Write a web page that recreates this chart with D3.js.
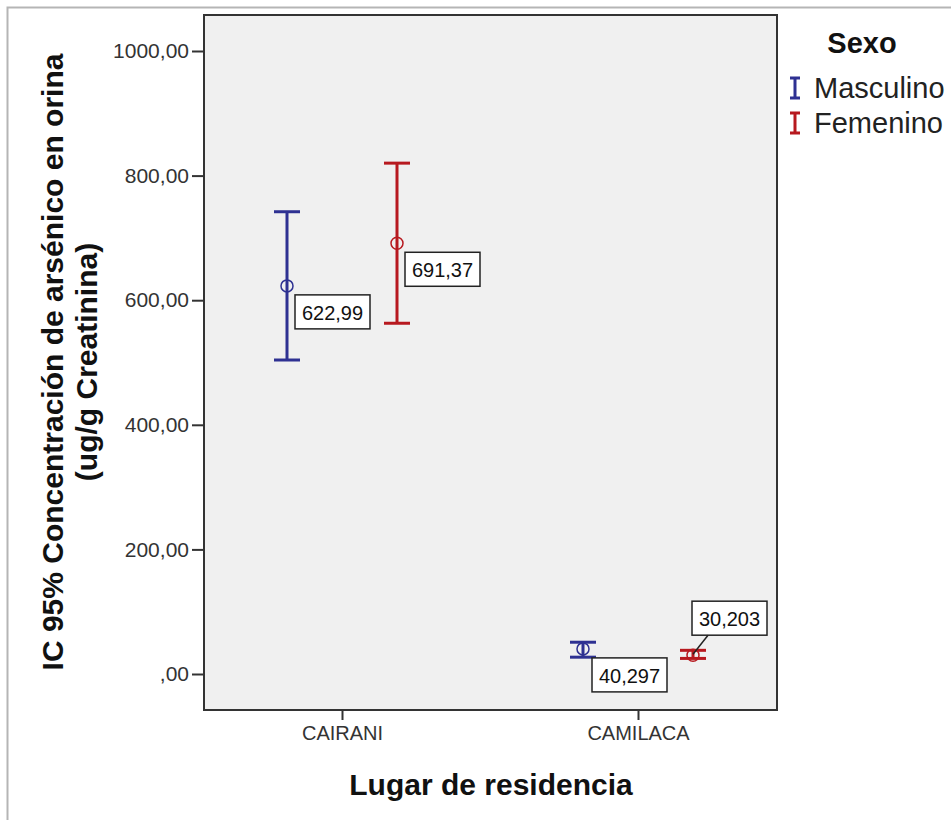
<!DOCTYPE html>
<html>
<head>
<meta charset="utf-8">
<script src="https://cdn.jsdelivr.net/npm/d3@7"></script>
<style>
  body { margin: 0; background: #fff; }
  svg text { font-family: "Liberation Sans", Arial, sans-serif; }
</style>
</head>
<body>
<div id="chart"></div>
<script>
// data
var places = ["CAIRANI", "CAMILACA"];
var sexes = ["Masculino", "Femenino"];
var means = [[622.99, 691.37], [40.297, 30.203]];
var lowers = [[504, 563], [27, 25]];
var uppers = [[742, 820], [51, 38]];
var meanLabels = [["622,99", "691,37"], ["40,297", "30,203"]];
var yTicks = [0, 200, 400, 600, 800, 1000];
var yTickLabels = [",00", "200,00", "400,00", "600,00", "800,00", "1000,00"];

var width = 951, height = 820;
var margin = { left: 204, top: 15, right: 777, bottom: 710 };
var colors = { "Masculino": "#2e3192", "Femenino": "#b7191f" };

var svg = d3.select("#chart").append("svg")
    .attr("width", width)
    .attr("height", height);

// outer frame
svg.append("path")
    .attr("d", "M7.5," + height + "V7.5H" + width)
    .attr("fill", "none")
    .attr("stroke", "#b5b5b5")
    .attr("stroke-width", 2);

var y = d3.scaleLinear()
    .domain([0, 1000])
    .range([674, 51]);

var x = d3.scalePoint()
    .domain(places)
    .range([342, 638]);

var xSex = d3.scaleOrdinal()
    .domain(sexes)
    .range([-55, 55]);

svg.append("rect")
    .attr("x", margin.left)
    .attr("y", margin.top)
    .attr("width", margin.right - margin.left)
    .attr("height", margin.bottom - margin.top)
    .attr("fill", "#f0f0f0")
    .attr("stroke", "#333")
    .attr("stroke-width", 2);

var yAxis = svg.append("g")
    .attr("transform", "translate(" + margin.left + ",0)")
    .call(d3.axisLeft(y).tickValues(yTicks).tickSize(12).tickPadding(3)
        .tickFormat(function(d, i) { return yTickLabels[i]; }));
yAxis.select(".domain").remove();
yAxis.selectAll("line").attr("stroke", "#333").attr("stroke-width", 2);
yAxis.selectAll("text").attr("fill", "#333").style("font-size", "21px");

var xAxis = svg.append("g")
    .attr("transform", "translate(0," + margin.bottom + ")")
    .call(d3.axisBottom(x).tickSize(10).tickPadding(6));
xAxis.select(".domain").remove();
xAxis.selectAll("line").attr("stroke", "#333").attr("stroke-width", 2);
xAxis.selectAll("text").attr("fill", "#333").style("font-size", "20px");

// error bars
var rows = [];
places.forEach(function(p, i) {
    sexes.forEach(function(s, j) {
        rows.push({ place: p, sex: s, mean: means[i][j], lo: lowers[i][j], hi: uppers[i][j], label: meanLabels[i][j] });
    });
});

var bars = svg.selectAll(".bar")
    .data(rows)
    .enter()
    .append("g")
    .attr("transform", function(d) { return "translate(" + (x(d.place) + xSex(d.sex)) + ",0)"; })
    .attr("stroke", function(d) { return colors[d.sex]; })
    .attr("stroke-width", 3)
    .attr("fill", "none");

bars.append("line")
    .attr("y1", function(d) { return y(d.lo); })
    .attr("y2", function(d) { return y(d.hi); });
bars.append("line")
    .attr("x1", -13).attr("x2", 13)
    .attr("y1", function(d) { return y(d.lo); })
    .attr("y2", function(d) { return y(d.lo); });
bars.append("line")
    .attr("x1", -13).attr("x2", 13)
    .attr("y1", function(d) { return y(d.hi); })
    .attr("y2", function(d) { return y(d.hi); });
bars.append("circle")
    .attr("cy", function(d) { return y(d.mean); })
    .attr("r", 6)
    .attr("stroke-width", 1.5);

// value labels, offsets relative to the marker
var labelOffsets = [[8, 9], [8, 9], [9, 9], [-1, -54]];
rows.forEach(function(d, k) {
    var cx = x(d.place) + xSex(d.sex);
    var cy = y(d.mean);
    var bx = cx + labelOffsets[k][0], by = cy + labelOffsets[k][1];
    var g = svg.append("g").attr("transform", "translate(" + bx + "," + by + ")");
    g.append("rect")
        .attr("width", 75).attr("height", 34)
        .attr("fill", "#fff")
        .attr("stroke", "#222")
        .attr("stroke-width", 1.5);
    g.append("text")
        .attr("x", 37.5).attr("y", 25)
        .attr("text-anchor", "middle")
        .style("font-size", "20px")
        .attr("fill", "#111")
        .text(d.label);
    if (k === 3) {
        svg.append("line")
            .attr("x1", cx).attr("y1", cy - 1)
            .attr("x2", bx + 16).attr("y2", by + 34)
            .attr("stroke", "#222").attr("stroke-width", 1.5);
    }
});

// axis titles
svg.append("text")
    .attr("x", 491).attr("y", 795)
    .attr("text-anchor", "middle")
    .style("font-size", "30px").style("font-weight", "bold")
    .attr("fill", "#111")
    .text("Lugar de residencia");

var yt = svg.append("text")
    .attr("transform", "translate(0,362) rotate(-90)")
    .attr("text-anchor", "middle")
    .style("font-size", "30px").style("font-weight", "bold")
    .attr("fill", "#111");
yt.append("tspan").attr("x", 0).attr("y", 63).text("IC 95% Concentración de arsénico en orina");
yt.append("tspan").attr("x", 0).attr("y", 97).text("(ug/g Creatinina)");

// legend
svg.append("text")
    .attr("x", 862).attr("y", 53)
    .attr("text-anchor", "middle")
    .style("font-size", "29px").style("font-weight", "bold")
    .attr("fill", "#111")
    .text("Sexo");

var legend = svg.selectAll(".leg")
    .data(sexes)
    .enter()
    .append("g")
    .attr("transform", function(d, i) { return "translate(795," + (88 + i * 35) + ")"; });
legend.append("path")
    .attr("d", "M-5,-10H5M0,-10V10M-5,10H5")
    .attr("stroke", function(d) { return colors[d]; })
    .attr("stroke-width", 3)
    .attr("fill", "none");
legend.append("text")
    .attr("x", 19).attr("y", 10)
    .style("font-size", "29px")
    .attr("fill", "#222")
    .text(function(d) { return d; });
</script>
</body>
</html>
